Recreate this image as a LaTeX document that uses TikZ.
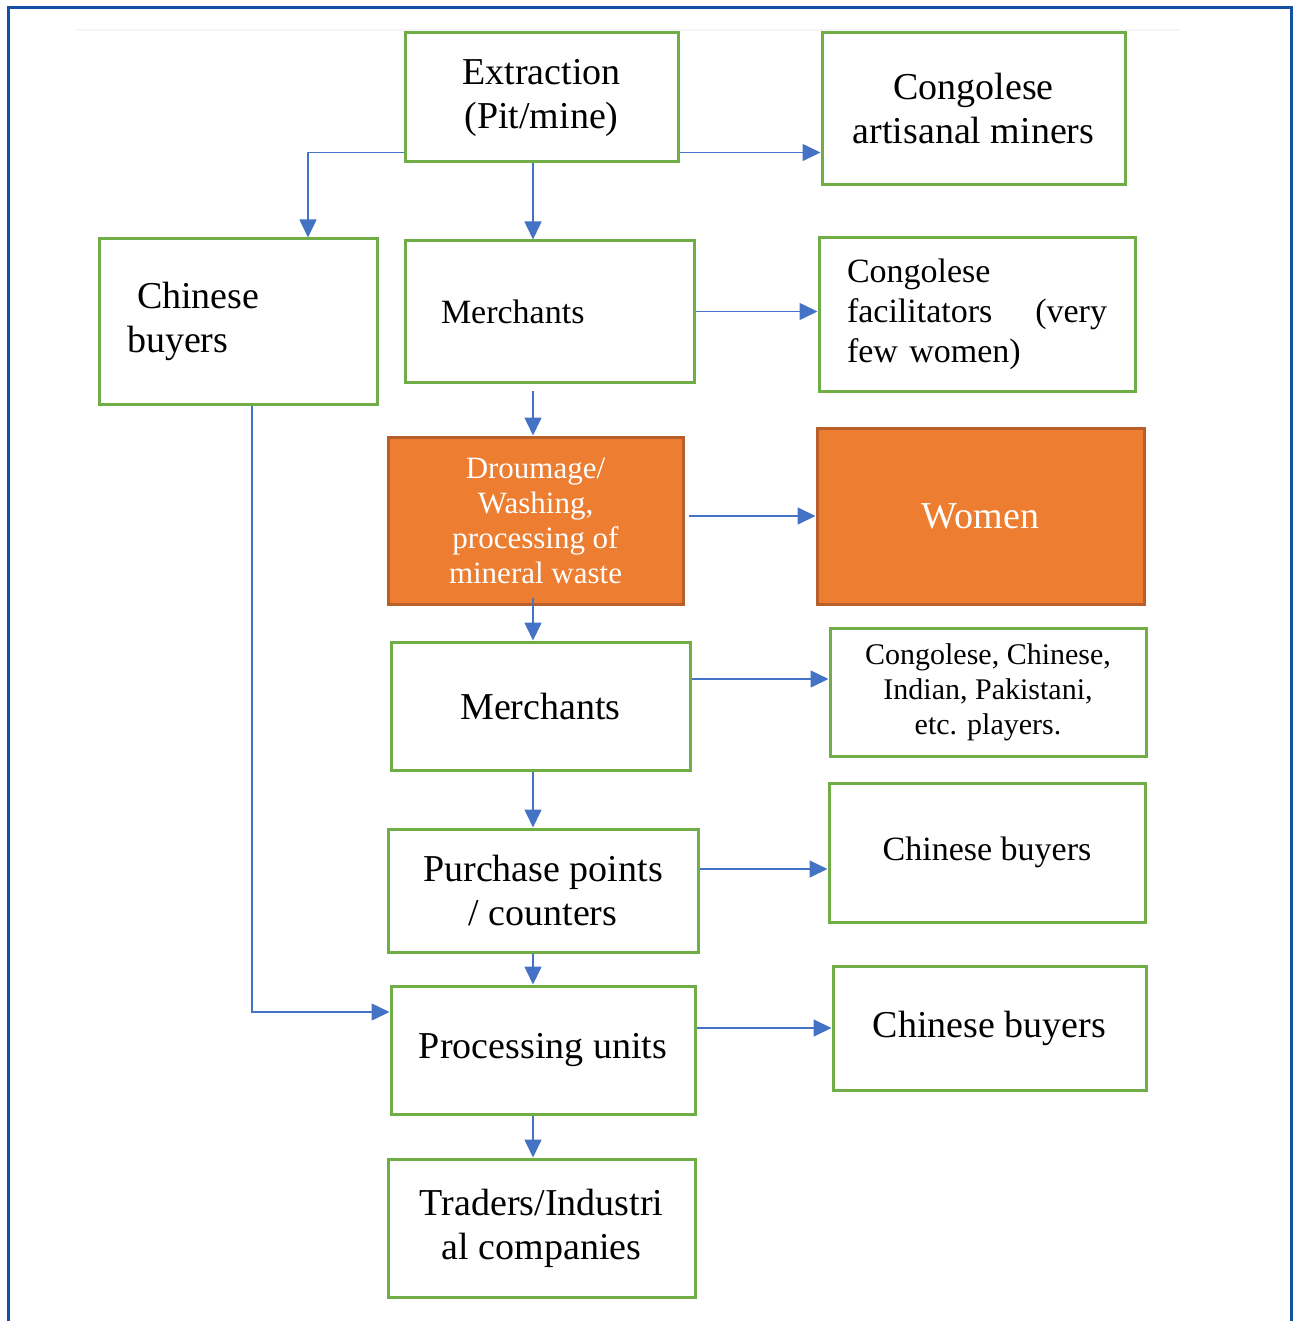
\documentclass[tikz,border=0pt]{standalone}
\usepackage{fontspec}
\setmainfont{Liberation Serif}
\usetikzlibrary{arrows.meta}
\definecolor{boxgreen}{HTML}{70AD47}
\definecolor{arrowblue}{HTML}{4472C4}
\definecolor{fillorange}{HTML}{ED7D31}
\definecolor{edgeorange}{HTML}{B9602A}
\definecolor{frameblue}{HTML}{1550A5}
\begin{document}
\begin{tikzpicture}[x=0.5pt,y=-0.5pt,
    box/.style={draw=boxgreen,line width=1.5pt,inner sep=0pt,align=center,font=\fontsize{19}{22}\selectfont},
    hot/.style={box,draw=edgeorange,fill=fillorange,text=white},
    link/.style={arrowblue,line width=0.8pt},
    >={Triangle[length=9pt,width=8.5pt]}]
                \useasboundingbox(0,0)rectangle(1293,1321);
                \draw[frameblue,line width=1.5pt](8,1321)--(8,8)--(1291,8)--(1291,1321);
                \draw[gray!8,line width=1pt](75,30)--(1180,30);
                \node[box,minimum width=136.5pt,minimum height=64.5pt](1)at(541.5,97.5){Extraction\\(Pit/mine)};
                \node[box,minimum width=151.5pt,minimum height=76pt](2)at(973.5,109){Congolese\\artisanal miners};
                \node[box,minimum width=139pt,minimum height=82.5pt,align=left,text width=111pt](3)at(238,321.5){\hspace*{5pt}Chinese\\buyers};
                \node[box,minimum width=144.5pt,minimum height=70.5pt,align=left,text width=108.5pt,font=\fontsize{17}{20}\selectfont](4)at(549.5,311.5){Merchants};
                \node[box,minimum width=158pt,minimum height=76.5pt,align=left,text width=130pt,font=\fontsize{17}{20}\selectfont](5)at(977,314.5){Congolese\\facilitators\hfill(very\\few women)};
                \node[hot,minimum width=147.5pt,minimum height=83.5pt,font=\fontsize{15.5}{17.5}\selectfont](6)at(535.5,520.5){Droumage/\\Washing,\\processing of\\mineral waste};
                \node[hot,minimum width=163.5pt,minimum height=88pt](7)at(980.5,516){Women};
                \node[box,minimum width=149.5pt,minimum height=64pt](8)at(540.5,706){Merchants};
                \node[box,minimum width=158pt,minimum height=64pt,font=\fontsize{15}{17.5}\selectfont](9)at(988,692){Congolese, Chinese,\\Indian, Pakistani,\\etc. players.};
                \node[box,minimum width=155pt,minimum height=61.5pt](10)at(543,890.5){Purchase points\\/ counters};
                \node[box,minimum width=158pt,minimum height=69.5pt,font=\fontsize{17}{20}\selectfont](11)at(987,852.5){Chinese buyers};
                \node[box,minimum width=152pt,minimum height=64pt](12)at(543,1050){Processing units};
                \node[box,minimum width=156.5pt,minimum height=62pt](13)at(989.5,1028){Chinese buyers};
                \node[box,minimum width=153.5pt,minimum height=69pt](14)at(541.5,1228){Traders/Industri\\al companies};
                \coordinate(c)at(533,0);
                \draw[link,->]([yshift=5.5pt]1.south east)--([yshift=5.5pt]1.south east-|2.west);
                \draw[link,->](1.south-|c)--(4.north-|c);
                \draw[link,->]([yshift=5.5pt]1.south west)-|([xshift=35pt]3.north);
                \draw[link,->](4.east)--(4.east-|5.west);
                \draw[link,->]([yshift=-3.5pt]4.south-|c)--(6.north-|c);
                \draw[link,->]([xshift=2pt]7.west-|6.east)--(7.west);
                \draw[link,->]([yshift=4pt]6.south-|c)--(8.north-|c);
                \draw[link,->]([yshift=6.5pt]9.west-|8.east)--([yshift=6.5pt]9.west);
                \draw[link,->](8.south-|c)--(10.north-|c);
                \draw[link,->]([yshift=-8.25pt]11.west-|10.east)--([yshift=-8.25pt]11.west);
                \draw[link,->](10.south-|c)--(12.north-|c);
                \draw[link,->](13.west-|12.east)--(13.west);
                \draw[link,->](12.south-|c)--(14.north-|c);
                \draw[link,->]([xshift=7pt]3.south)|-([yshift=19pt]12.west);
            \end{tikzpicture}
\end{document}
